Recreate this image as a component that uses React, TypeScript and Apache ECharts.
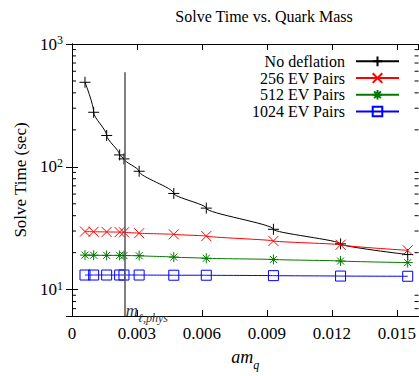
import React, { useEffect, useRef } from 'react';
import * as echarts from 'echarts';

// ---- data ----
const masses = [0.0006, 0.001, 0.0016, 0.0022, 0.0024, 0.0031, 0.0047, 0.0062, 0.0093, 0.0124, 0.0155];
const noDeflation = [488, 278, 180, 125, 116, 92, 60.7, 46.1, 31.0, 23.6, 19.3];
const ev256 = [29.7, 29.6, 29.5, 29.4, 29.3, 28.8, 28.2, 27.3, 24.9, 23.2, 20.9];
const ev512 = [19.1, 19.05, 19.0, 19.0, 18.95, 18.9, 18.4, 18.0, 17.6, 17.1, 16.6];
const ev1024 = [13.15, 13.15, 13.15, 13.15, 13.15, 13.15, 13.1, 13.1, 13.0, 12.9, 12.85];
const seriesNames = ['No deflation', '256 EV Pairs', '512 EV Pairs', '1024 EV Pairs'];
const yMinorTicks = [7, 8, 9, 20, 30, 40, 50, 60, 70, 80, 90, 200, 300, 400, 500, 600, 700, 800, 900];
const M_PHYS = 0.00243;
const M_PHYS_TOP = 590;
const M_LABEL_Y = 6.4;
const X_MIN = 0;
const X_MAX = 0.016;
const X_STEP = 0.003;
const Y_MIN = 6.1;
const Y_MAX = 1000;

const FONT = 'Liberation Serif';

const SYM_PLUS = 'path://M0,5L10,5M5,0L5,10';
const SYM_CROSS = 'path://M0,0L10,10M10,0L0,10';
const SYM_STAR = 'path://M0,5L10,5M5,0L5,10M1.5,1.5L8.5,8.5M8.5,1.5L1.5,8.5';
const SYM_SQUARE = 'path://M0,0L10,0L10,10L0,10Z';

function pairs(vals: number[]) {
  return masses.map((m, i) => [m, vals[i]]);
}

function lineSeries(name: string, vals: number[], color: string, symbol: string, size: number, extra: any = {}) {
  return {
    name,
    type: 'line',
    data: pairs(vals),
    xAxisIndex: 0,
    yAxisIndex: 0,
    symbol,
    symbolSize: size,
    smooth: 0.25,
    smoothMonotone: 'y',
    lineStyle: { color, width: 1 },
    itemStyle: { color: 'transparent', borderColor: color, borderWidth: 1 },
    emphasis: { disabled: true },
    z: 3,
    ...extra,
  };
}

export default function App() {
  const ref = useRef<HTMLDivElement>(null);
  useEffect(() => {
    if (!ref.current) return;
    const chart = echarts.init(ref.current, undefined, { renderer: 'svg' });
    const isStep = (v: number) => Math.abs(v / X_STEP - Math.round(v / X_STEP)) < 1e-6;
    const isPow = (v: number) => {
      const l = Math.log10(v);
      return Math.abs(l - Math.round(l)) < 1e-6;
    };
    const tickStyle = { show: true, inside: true, length: 6, lineStyle: { color: '#000', width: 1 } };
    const axisLine = { show: true, lineStyle: { color: '#000', width: 1 } };
    const option: any = {
      animation: false,
      textStyle: { fontFamily: FONT, color: '#000' },
      grid: { left: 72, top: 44, width: 348, bottom: 53, containLabel: false },
      graphic: [
        {
          type: 'text',
          x: 264,
          y: 16,
          style: {
            text: 'Solve Time vs. Quark Mass',
            fontFamily: FONT,
            fontSize: 16,
            fill: '#000',
            align: 'center',
            verticalAlign: 'middle',
          },
        },
      ],
      legend: {
        data: seriesNames,
        orient: 'vertical',
        right: 19,
        top: 53,
        padding: 0,
        itemGap: 0,
        itemWidth: 43,
        itemHeight: 12,
        align: 'right',
        selectedMode: false,
        textStyle: { fontFamily: FONT, fontSize: 16, color: '#000', lineHeight: 16.7, padding: [0, 6, 0, 0] },
      },
      xAxis: [
        {
          type: 'value',
          position: 'bottom',
          min: X_MIN,
          max: X_MAX,
          interval: X_STEP,
          axisLine,
          axisTick: tickStyle,
          splitLine: { show: false },
          axisLabel: {
            fontFamily: FONT,
            fontSize: 17,
            color: '#000',
            margin: 9,
            showMaxLabel: false,
            formatter: (v: number) => (isStep(v) ? (v === 0 ? '0' : v.toFixed(3)) : ''),
          },
          name: '{a|am}{q|q}',
          nameLocation: 'middle',
          nameGap: 32,
          nameTextStyle: {
            rich: {
              a: { fontFamily: FONT, fontStyle: 'italic', fontSize: 18, color: '#000', verticalAlign: 'top', lineHeight: 23 },
              q: { fontFamily: FONT, fontStyle: 'italic', fontSize: 12, color: '#000', verticalAlign: 'bottom' },
            },
          },
        },
        {
          type: 'value',
          position: 'top',
          min: X_MIN,
          max: X_MAX,
          interval: X_STEP,
          axisLine,
          axisTick: tickStyle,
          axisLabel: { show: false },
          splitLine: { show: false },
        },
      ],
      yAxis: [
        {
          type: 'log',
          logBase: 10,
          position: 'left',
          min: Y_MIN,
          max: Y_MAX,
          axisLine,
          axisTick: tickStyle,
          splitLine: { show: false },
          axisLabel: {
            margin: 9,
            formatter: (v: number) => (isPow(v) ? `{b|10}{s|${Math.round(Math.log10(v))}}` : ''),
            rich: {
              b: { fontFamily: FONT, fontSize: 17, color: '#000', verticalAlign: 'middle', lineHeight: 20 },
              s: { fontFamily: FONT, fontSize: 12, color: '#000', verticalAlign: 'top', lineHeight: 11 },
            },
          },
          name: 'Solve Time (sec)',
          nameLocation: 'middle',
          nameGap: 41,
          nameRotate: 90,
          nameTextStyle: { fontFamily: FONT, fontSize: 17, color: '#000' },
        },
        {
          type: 'log',
          logBase: 10,
          position: 'right',
          min: Y_MIN,
          max: Y_MAX,
          axisLine,
          axisTick: tickStyle,
          axisLabel: { show: false },
          splitLine: { show: false },
        },
      ],
      series: [
        lineSeries(seriesNames[0], noDeflation, '#000000', SYM_PLUS, 11, {
          markLine: {
            silent: true,
            symbol: ['none', 'none'],
            label: { show: false },
            lineStyle: { color: '#555555', width: 1.5, type: 'solid' },
            emphasis: { disabled: true },
            data: [[{ coord: [M_PHYS, Y_MIN] }, { coord: [M_PHYS, M_PHYS_TOP] }]],
          },
          markPoint: {
            silent: true,
            symbol: 'circle',
            symbolSize: 0,
            data: [
              {
                coord: [M_PHYS, M_LABEL_Y],
                label: {
                  show: true,
                  position: 'right',
                  distance: 1,
                  formatter: '{m|m}{s|ℓ,phys}',
                  rich: {
                    m: { fontFamily: FONT, fontStyle: 'italic', fontSize: 17, color: '#333', verticalAlign: 'top', lineHeight: 22 },
                    s: { fontFamily: FONT, fontStyle: 'italic', fontSize: 12, color: '#333', verticalAlign: 'bottom' },
                  },
                },
              },
            ],
          },
        }),
        lineSeries(seriesNames[1], ev256, '#ff0000', SYM_CROSS, 10),
        lineSeries(seriesNames[2], ev512, '#007a00', SYM_STAR, 10),
        lineSeries(seriesNames[3], ev1024, '#0000ff', SYM_SQUARE, 10),
        {
          name: 'minorTicks',
          type: 'custom',
          xAxisIndex: 0,
          yAxisIndex: 0,
          silent: true,
          data: yMinorTicks.map((v) => [X_MIN, v]),
          renderItem: (params: any, api: any) => {
            const v = api.value(1);
            const pL = api.coord([X_MIN, v]);
            const pR = api.coord([X_MAX, v]);
            return {
              type: 'group',
              children: [
                { type: 'line', shape: { x1: pL[0], y1: pL[1], x2: pL[0] + 4, y2: pL[1] }, style: { stroke: '#000', lineWidth: 1 } },
                { type: 'line', shape: { x1: pR[0], y1: pR[1], x2: pR[0] - 4, y2: pR[1] }, style: { stroke: '#000', lineWidth: 1 } },
              ],
            };
          },
        },
      ],
    };
    chart.setOption(option);
    return () => chart.dispose();
  }, []);
  return <div ref={ref} style={{ position: 'fixed', left: 0, top: 0, width: 419, height: 376, background: '#fff' }} />;
}
